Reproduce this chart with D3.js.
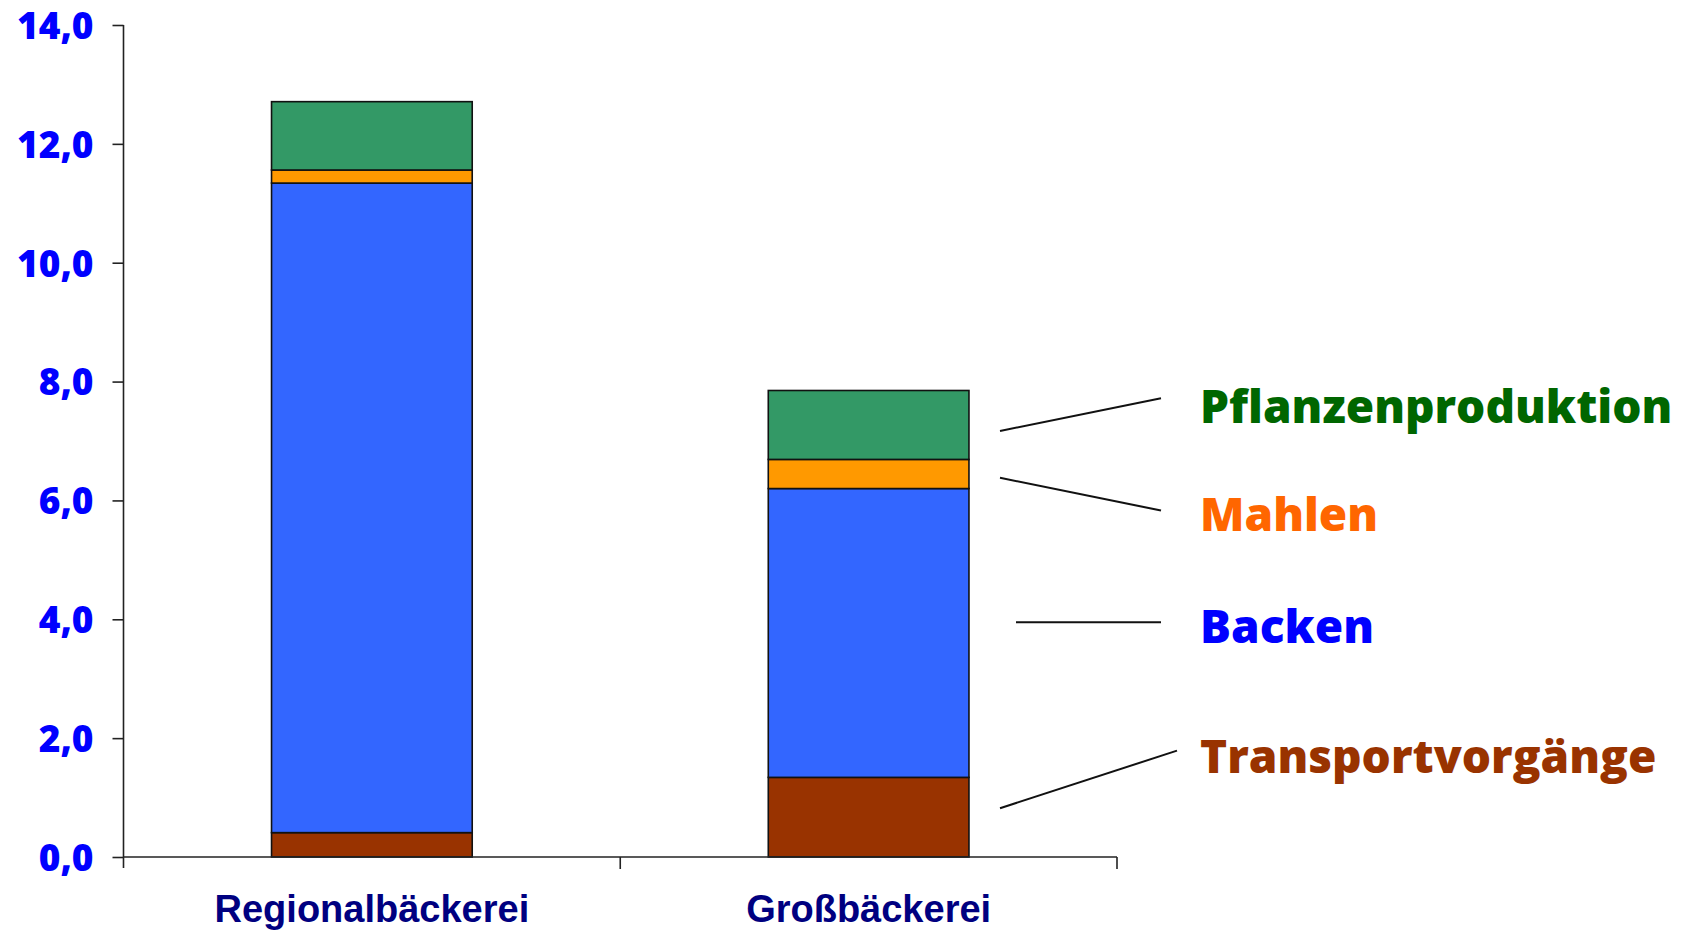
<!DOCTYPE html>
<html>
<head>
<meta charset="utf-8">
<script src="https://cdn.jsdelivr.net/npm/d3@7"></script>
<style>
  html, body { margin: 0; padding: 0; background: #fff; }
  svg { display: block; }
</style>
</head>
<body>
<svg id="chart" width="1686" height="932"></svg>
<script>
// Bakery types on the x axis
const categories = ["Regionalbäckerei", "Großbäckerei"];

// Stage contributions, stacked bottom to top
const series = ["Transportvorgänge", "Backen", "Mahlen", "Pflanzenproduktion"];
const transport = [0.41, 1.34];
const backen = [10.93, 4.86];
const mahlen = [0.22, 0.49];
const pflanzen = [1.15, 1.16];

// Axis ticks
const yTicks = [0, 2, 4, 6, 8, 10, 12, 14];

const fills = {
  "Transportvorgänge": "#993300",
  "Backen": "#3366FF",
  "Mahlen": "#FF9900",
  "Pflanzenproduktion": "#339966"
};
const labelColors = {
  "Transportvorgänge": "#993300",
  "Backen": "#0000FF",
  "Mahlen": "#FF6600",
  "Pflanzenproduktion": "#006600"
};

// Callout anchors (in data units) next to the second bar: [line start, line end, label baseline]
const callouts = [
  { key: "Pflanzenproduktion", from: 7.17, to: 7.72, text: 7.30, x0: 1000, x1: 1161 },
  { key: "Mahlen",             from: 6.38, to: 5.83, text: 5.49, x0: 1000, x1: 1161 },
  { key: "Backen",             from: 3.95, to: 3.95, text: 3.60, x0: 1016, x1: 1161 },
  { key: "Transportvorgänge",  from: 0.82, to: 1.79, text: 1.41, x0: 1000, x1: 1177 }
];

const rows = categories.map((c, i) => ({
  cat: c,
  "Transportvorgänge": transport[i],
  "Backen": backen[i],
  "Mahlen": mahlen[i],
  "Pflanzenproduktion": pflanzen[i]
}));

const heavyFont = "'Open Sans', Lato, 'DejaVu Sans', sans-serif";

const svg = d3.select("#chart");

const x = d3.scaleBand().domain(categories).range([123.5, 1117]).padding(0);
const y = d3.scaleLinear().domain([0, 14]).range([857, 25]);
const barW = x.bandwidth() * 0.404;

const stacked = d3.stack().keys(series)(rows);

// Bars
const g = svg.append("g");
stacked.forEach(layer => {
  g.selectAll(null)
    .data(layer)
    .join("rect")
    .attr("x", d => x(d.data.cat) + (x.bandwidth() - barW) / 2)
    .attr("width", barW)
    .attr("y", d => y(d[1]))
    .attr("height", d => y(d[0]) - y(d[1]))
    .attr("fill", fills[layer.key])
    .attr("stroke", "#111")
    .attr("stroke-width", 1.6);
});

// Y axis
const yAxis = svg.append("g")
  .attr("transform", "translate(123.5,0)")
  .call(d3.axisLeft(y).tickValues(yTicks).tickSize(11).tickSizeOuter(0)
    .tickFormat(d => d.toFixed(1).replace(".", ",")));
yAxis.select(".domain").remove();
yAxis.selectAll(".tick line").attr("stroke", "#222").attr("stroke-width", 1.6);
yAxis.selectAll(".tick text")
  .attr("x", -30)
  .attr("dy", "0.36em")
  .attr("fill", "#0000FF")
  .style("font-family", heavyFont)
  .style("font-weight", "800")
  .style("font-size", "37px");

svg.append("line")
  .attr("x1", 123.5).attr("x2", 123.5)
  .attr("y1", y(14)).attr("y2", y(0) + 11)
  .attr("stroke", "#222").attr("stroke-width", 1.6);

// X axis baseline and category boundary ticks
svg.append("line")
  .attr("x1", 123.5).attr("x2", 1117)
  .attr("y1", y(0)).attr("y2", y(0))
  .attr("stroke", "#222").attr("stroke-width", 1.6);

const bounds = categories.map(c => x(c)).concat([x(categories[categories.length - 1]) + x.bandwidth()]);
svg.selectAll(null)
  .data(bounds.slice(1))
  .join("line")
  .attr("x1", d => d).attr("x2", d => d)
  .attr("y1", y(0)).attr("y2", y(0) + 12)
  .attr("stroke", "#222").attr("stroke-width", 1.6);

// Category labels
svg.selectAll(null)
  .data(categories)
  .join("text")
  .attr("x", d => x(d) + x.bandwidth() / 2)
  .attr("y", 922)
  .attr("text-anchor", "middle")
  .attr("fill", "#000080")
  .style("font-family", "'Liberation Sans', Arial, sans-serif")
  .style("font-weight", "bold")
  .style("font-size", "38px")
  .text(d => d);

// Callouts beside the second bar
const co = svg.append("g");
co.selectAll("line")
  .data(callouts)
  .join("line")
  .attr("x1", d => d.x0).attr("y1", d => y(d.from))
  .attr("x2", d => d.x1).attr("y2", d => y(d.to))
  .attr("stroke", "#111").attr("stroke-width", 2);

co.selectAll("text")
  .data(callouts)
  .join("text")
  .attr("x", 1200)
  .attr("y", d => y(d.text))
  .attr("fill", d => labelColors[d.key])
  .style("font-family", heavyFont)
  .style("font-weight", "800")
  .style("font-size", "46px")
  .text(d => d.key);
</script>
</body>
</html>
